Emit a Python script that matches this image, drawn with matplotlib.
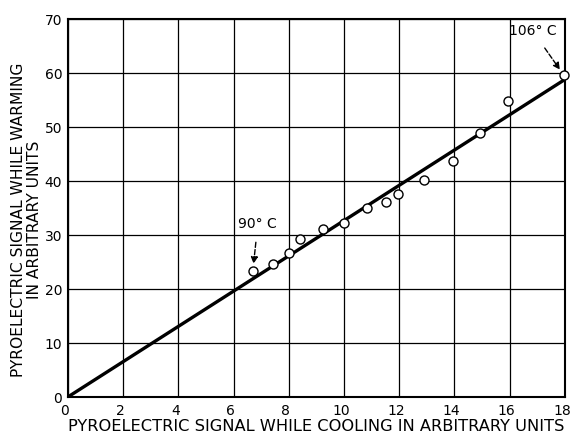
import matplotlib.pyplot as plt
from matplotlib.transforms import ScaledTranslation

# readings (cooling signal, warming signal)
cooling = [6.70, 7.43, 8.0, 8.41, 9.24, 10.0, 10.83, 11.52, 11.96, 12.9, 13.95, 14.93, 15.94, 17.97]
warming = [23.3, 24.6, 26.7, 29.3, 31.1, 32.2, 35.0, 36.1, 37.6, 40.2, 43.7, 48.8, 54.8, 59.6]

fit_x = [0, 18]
fit_y = [0, 58.8]

x_ticks = list(range(0, 19, 2))
y_ticks = list(range(0, 71, 10))

plt.rcParams["font.family"] = ["DejaVu Sans"]

fig = plt.figure(figsize=(5.7, 4.38), dpi=100)
ax = fig.add_axes([0.119, 0.0936, 0.872, 0.863])

ax.plot(fit_x, fit_y, color="black", lw=2.4, solid_capstyle="butt", zorder=3)
ax.plot(cooling, warming, "o", ms=6.5, mfc="white", mec="black", mew=1.0,
        zorder=4, clip_on=False)

ax.set_xlim(0, 18)
ax.set_ylim(0, 70)
ax.set_xticks(x_ticks)
ax.set_yticks(y_ticks)
ax.grid(True, color="black", lw=0.9)
ax.tick_params(length=0, labelsize=10)
ax.tick_params(axis="x", pad=5)
ax.tick_params(axis="y", pad=4)
for s in ax.spines.values():
    s.set_linewidth(1.5)

# nudge x tick labels a little left, as in the original
shift = ScaledTranslation(-3 / 100, 0, fig.dpi_scale_trans)
for lab in ax.get_xticklabels():
    lab.set_transform(lab.get_transform() + shift)

ax.set_xlabel("PYROELECTRIC SIGNAL WHILE COOLING IN ARBITRARY UNITS",
              fontsize=11.7, labelpad=1)
ax.set_ylabel("PYROELECTRIC SIGNAL WHILE WARMING\nIN ARBITRARY UNITS",
              fontsize=11.2, linespacing=1.1)
ax.yaxis.set_label_coords(-0.052, 0.47)

ax.annotate("90° C", xy=(6.72, 24.4), xytext=(6.88, 32.0), fontsize=10,
            ha="center", va="center",
            arrowprops=dict(arrowstyle="-|>", ls="--", color="black", lw=1.0,
                            shrinkA=6, shrinkB=1, mutation_scale=10))
ax.annotate("106° C", xy=(17.85, 60.4), xytext=(16.85, 67.7), fontsize=10,
            ha="center", va="center", annotation_clip=False,
            arrowprops=dict(arrowstyle="-|>", ls="--", color="black", lw=1.0,
                            shrinkA=6, shrinkB=1, mutation_scale=10))

fig.savefig("out.png", dpi=100)
